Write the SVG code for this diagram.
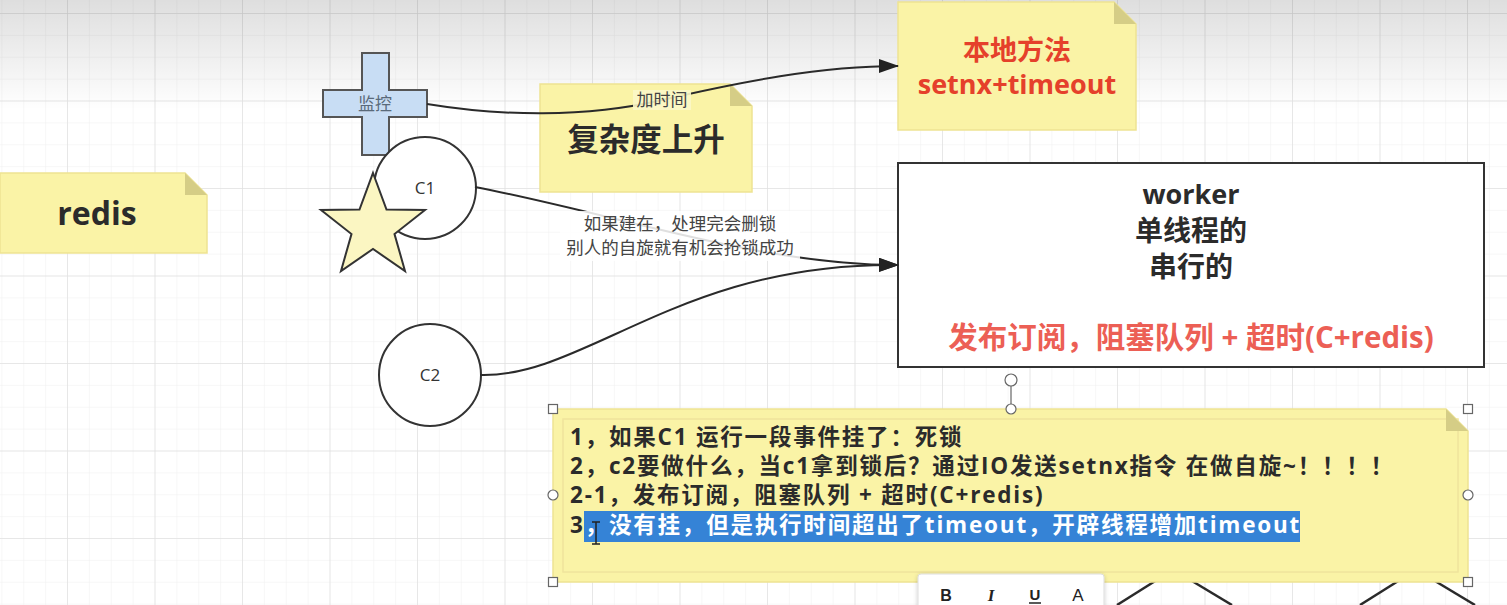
<svg xmlns="http://www.w3.org/2000/svg" width="1507" height="605" viewBox="0 0 1507 605">
<defs>
  <pattern id="minor" x="67" y="13" width="21.875" height="21.875" patternUnits="userSpaceOnUse">
    <path d="M0,0 H21.875 M0,0 V21.875" stroke="#efefef" stroke-width="1" fill="none"/>
  </pattern>
  <pattern id="major" x="67" y="13" width="87.5" height="87.5" patternUnits="userSpaceOnUse">
    <path d="M0,0 H87.5 M0,0 V87.5" stroke="#e2e2e2" stroke-width="1.5" fill="none"/>
  </pattern>
  <linearGradient id="topShade" x1="0" y1="0" x2="0" y2="1">
    <stop offset="0" stop-color="#000" stop-opacity="0.13"/>
    <stop offset="1" stop-color="#000" stop-opacity="0"/>
  </linearGradient>
  <marker id="arrow" viewBox="0 0 20 14" refX="19" refY="7" markerWidth="20" markerHeight="14" markerUnits="userSpaceOnUse" orient="auto">
    <path d="M0,0 L20,7 L0,14 Z" fill="#222"/>
  </marker>
  <filter id="shadow" x="-10%" y="-30%" width="120%" height="160%">
    <feDropShadow dx="0" dy="1" stdDeviation="2" flood-color="#000" flood-opacity="0.2"/>
  </filter>
</defs>
<style>
  .note { fill: #faf3a6; stroke: #eee392; stroke-width: 1.5; }
  .fold { fill: #d5cd86; }
  .shape { stroke: #333; stroke-width: 2; }
  .conn { fill: none; stroke: #2a2a2a; stroke-width: 2; }
  .cjk { font-family: "Open Sans", "Noto Sans CJK SC", sans-serif; }
  .b { font-weight: bold; }
  .dark { fill: #2b2b2b; }
  .red { fill: #e5402b; }
  .salmon { fill: #ec5f55; }
  .lbl { fill: #444; font-size: 17.5px; }
  .line { font-size: 22.5px; letter-spacing: 1.8px; }
  .handle { fill: #fff; stroke: #666; stroke-width: 1.2; }
</style>

<!-- background grid -->
<rect x="0" y="0" width="1507" height="605" fill="#fff"/>
<rect x="0" y="0" width="1507" height="605" fill="url(#minor)"/>
<rect x="0" y="0" width="1507" height="605" fill="url(#major)"/>
<rect x="0" y="0" width="1507" height="110" fill="url(#topShade)"/>

<!-- partial shapes below bottom note -->
<g id="lower-shape" stroke="#2a2a2a" stroke-width="2.5" fill="none">
  <line x1="1117" y1="605" x2="1160" y2="578"/>
  <line x1="1187" y1="578" x2="1232" y2="605"/>
  <line x1="1360" y1="605" x2="1403" y2="578"/>
  <line x1="1430" y1="578" x2="1475" y2="605"/>
</g>

<!-- redis note -->
<g id="redis">
  <path class="note" d="M0,173 H185 L207,195 V253 H0 Z"/>
  <path class="fold" d="M185,173 L207,195 H185 Z"/>
  <text x="97" y="225" text-anchor="middle" class="cjk b dark" font-size="32">redis</text>
</g>

<!-- complexity note -->
<g id="complexity">
  <path class="note" d="M540,84 H730 L752,106 V192 H540 Z"/>
  <path class="fold" d="M730,84 L752,106 H730 Z"/>
  <text x="646" y="151" text-anchor="middle" class="cjk b dark" font-size="31.5">复杂度上升</text>
</g>

<!-- local method note -->
<g id="local-method">
  <path class="note" d="M898,2 H1114 L1136,24 V130 H898 Z"/>
  <path class="fold" d="M1114,2 L1136,24 H1114 Z"/>
  <text x="1017" y="60" text-anchor="middle" class="cjk b red" font-size="27">本地方法</text>
  <text x="1017" y="94" text-anchor="middle" class="cjk b red" font-size="27">setnx+timeout</text>
</g>

<!-- monitor cross -->
<g id="monitor">
  <path d="M362,53 H389 V90 H427 V117 H389 V155 H362 V117 H323 V90 H362 Z" fill="#c8ddf4" stroke="#555" stroke-width="2"/>
  <text x="375" y="110" text-anchor="middle" class="cjk" font-size="17" fill="#5a6a7a">监控</text>
</g>

<!-- C1 -->
<g id="c1">
  <circle cx="425" cy="188" r="51" fill="#fff" class="shape"/>
  <text x="425" y="194" text-anchor="middle" class="cjk" font-size="17" fill="#333">C1</text>
</g>

<!-- star -->
<g id="star">
  <polygon points="373,173 386.5,209.5 425,210 394.5,234 405,271 373,249 341,271 351.5,234 321,210 359.5,209.5" fill="#fbf6c2" stroke="#333" stroke-width="2" stroke-linejoin="miter"/>
</g>

<!-- C2 -->
<g id="c2">
  <circle cx="430" cy="375" r="51" fill="#fff" class="shape"/>
  <text x="430" y="381" text-anchor="middle" class="cjk" font-size="17" fill="#333">C2</text>
</g>

<!-- worker -->
<g id="worker">
  <rect x="898" y="163" width="586" height="204" fill="#fff" class="shape"/>
  <text x="1191" y="204" text-anchor="middle" class="cjk b dark" font-size="27">worker</text>
  <text x="1191" y="241" text-anchor="middle" class="cjk b dark" font-size="28">单线程的</text>
  <text x="1191" y="277" text-anchor="middle" class="cjk b dark" font-size="28">串行的</text>
  <text x="1191" y="348" text-anchor="middle" class="cjk b salmon" font-size="29.5">发布订阅，阻塞队列 + 超时(C+redis)</text>
</g>

<!-- connectors -->
<g id="connectors">
  <path class="conn" d="M427,104 C500,116 585,118 662,100 C740,82 820,66 898,66" marker-end="url(#arrow)"/>
  <path class="conn" d="M475,187 C620,215 760,265 898,265" marker-end="url(#arrow)"/>
  <path class="conn" d="M480,375 C585,378 680,262 898,265" marker-end="url(#arrow)"/>
  <rect x="633" y="90" width="58" height="20" fill="#fbf7c8" fill-opacity="0.9"/>
  <text x="662" y="106" text-anchor="middle" class="cjk" font-size="17" fill="#444">加时间</text>
  <rect x="560" y="211" width="240" height="50" fill="#fff" fill-opacity="0.85"/>
  <text x="680" y="230" text-anchor="middle" class="cjk lbl">如果建在，处理完会删锁</text>
  <text x="680" y="254" text-anchor="middle" class="cjk lbl">别人的自旋就有机会抢锁成功</text>
</g>

<!-- bottom note (selected) -->
<g id="points-note">
  <path class="note" d="M553,409 H1446 L1468,431 V582 H553 Z"/>
  <rect x="563" y="419" width="895" height="153" fill="none" stroke="#efe49c" stroke-width="1.5"/>
  <path class="fold" d="M1446,409 L1468,431 H1446 Z"/>
  <text x="570" y="445" class="cjk b dark line">1，如果C1 运行一段事件挂了：死锁</text>
  <text x="570" y="474" class="cjk b dark line">2，c2要做什么，当c1拿到锁后？通过IO发送setnx指令 在做自旋~！！！！</text>
  <text x="570" y="503" class="cjk b dark line">2-1，发布订阅，阻塞队列 + 超时(C+redis)</text>
  <rect x="584" y="511" width="716" height="31" fill="#3583d6"/>
  <text x="570" y="533" class="cjk b dark line">3<tspan fill="#fff">，没有挂，但是执行时间超出了timeout，开辟线程增加timeout</tspan></text>
  <path d="M596,522 V544 M592,544 H600 M592,522 H600" stroke="#222" stroke-width="1.5" fill="none"/>
</g>

<!-- selection handles -->
<g id="selection">
  <line x1="1011" y1="386" x2="1011" y2="404" stroke="#666" stroke-width="1.2"/>
  <circle cx="1011" cy="380" r="6" class="handle"/>
  <circle cx="1011" cy="409" r="5" class="handle"/>
  <circle cx="553" cy="495" r="5" class="handle"/>
  <circle cx="1468" cy="495" r="5" class="handle"/>
  <rect x="548.5" y="404.5" width="9" height="9" class="handle"/>
  <rect x="1463.5" y="404.5" width="9" height="9" class="handle"/>
  <rect x="548.5" y="577.5" width="9" height="9" class="handle"/>
  <rect x="1463.5" y="577.5" width="9" height="9" class="handle"/>
</g>

<!-- text toolbar -->
<g id="toolbar">
  <rect x="918" y="574" width="186" height="40" rx="3" fill="#fff" stroke="#ddd" filter="url(#shadow)"/>
  <text x="946" y="601" text-anchor="middle" font-family="Liberation Sans, sans-serif" font-weight="bold" font-size="16" fill="#222">B</text>
  <text x="991" y="601" text-anchor="middle" font-family="Liberation Serif, serif" font-style="italic" font-weight="bold" font-size="17" fill="#222">I</text>
  <text x="1035" y="600" text-anchor="middle" font-family="Liberation Sans, sans-serif" font-weight="bold" font-size="15" fill="#222">U</text>
  <line x1="1029" y1="603" x2="1041" y2="603" stroke="#222" stroke-width="1.5"/>
  <text x="1078" y="601" text-anchor="middle" font-family="Liberation Sans, sans-serif" font-size="17" fill="#222">A</text>
</g>
</svg>
